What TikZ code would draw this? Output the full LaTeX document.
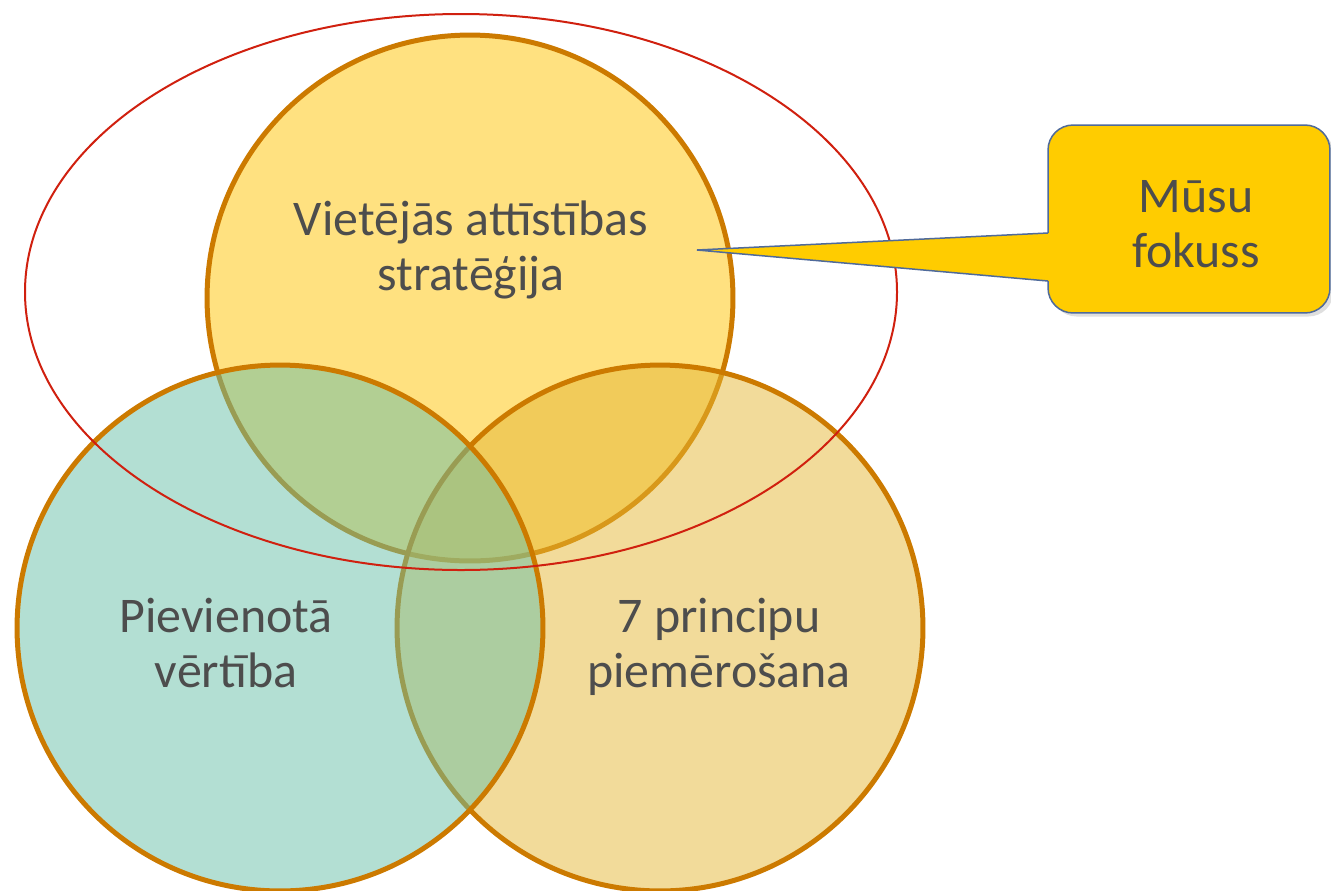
\documentclass[tikz,border=0pt]{standalone}
\usepackage{fontspec}
\setmainfont{Carlito}
\usetikzlibrary{shadows}

\definecolor{vennedge}{HTML}{CC7A00}
\definecolor{stratfill}{HTML}{FFE180}
\definecolor{valuefill}{HTML}{67BFA7}
\definecolor{princfill}{HTML}{E5B735}
\definecolor{ringred}{HTML}{D0200F}
\definecolor{calloutfill}{HTML}{FFCC00}
\definecolor{calloutedge}{HTML}{4F6A9A}
\definecolor{labelgrey}{HTML}{4D4D4D}

\tikzset{
  venn/.style={circle, draw=vennedge, line width=0.1cm, minimum size=10.52cm, inner sep=0pt},
  venntext/.style={text=labelgrey, align=center, anchor=base, font=\fontsize{28.4}{31.2}\selectfont},
  focusbox/.style={rectangle, rounded corners=0.5cm, fill=calloutfill, draw=calloutedge, line width=0.03cm,
    minimum width=5.64cm, minimum height=3.76cm, inner sep=0pt,
    drop shadow={opacity=0.25, shadow xshift=2pt, shadow yshift=-2pt}},
}

\begin{document}
\begin{tikzpicture}[x=0.02cm, y=-0.02cm]
        \useasboundingbox (0,0) rectangle (1331,890);

        % Venn circles
        \node[venn, fill=stratfill] (strat) at (470,298) {};
        \node[venn, fill=princfill, fill opacity=0.5] (princ) at (660,628) {};
        \node[venn, fill=valuefill, fill opacity=0.5] (value) at (280,628) {};

        % Focus ring
        \draw[ringred, line width=0.04cm] (461,292) ellipse [x radius=436, y radius=278];

        % Labels (positioned at baseline of last line)
        \node[venntext] (strattext) at (471,290) {Vietējās attīstības\\stratēģija};
        \node[venntext] (valuetext) at (226,687) {Pievienotā\\vērtība};
        \node[venntext] (princtext) at (719,687) {7 principu\\piemērošana};

        % Callout
        \node[focusbox] (focus) at (1189,219) {};
        \coordinate (tip) at (697,250);
        \coordinate (ptop) at (1048,233);
        \coordinate (pbot) at (1048,281);
        \fill[calloutfill] (tip) -- ([xshift=0.06cm]ptop) -- ([xshift=0.06cm]pbot) -- cycle;
        \draw[calloutedge, line width=0.03cm] (ptop) -- (tip) -- (pbot);
        \node[venntext] (focustext) at (1196,267) {Mūsu\\fokuss};
\end{tikzpicture}
\end{document}
